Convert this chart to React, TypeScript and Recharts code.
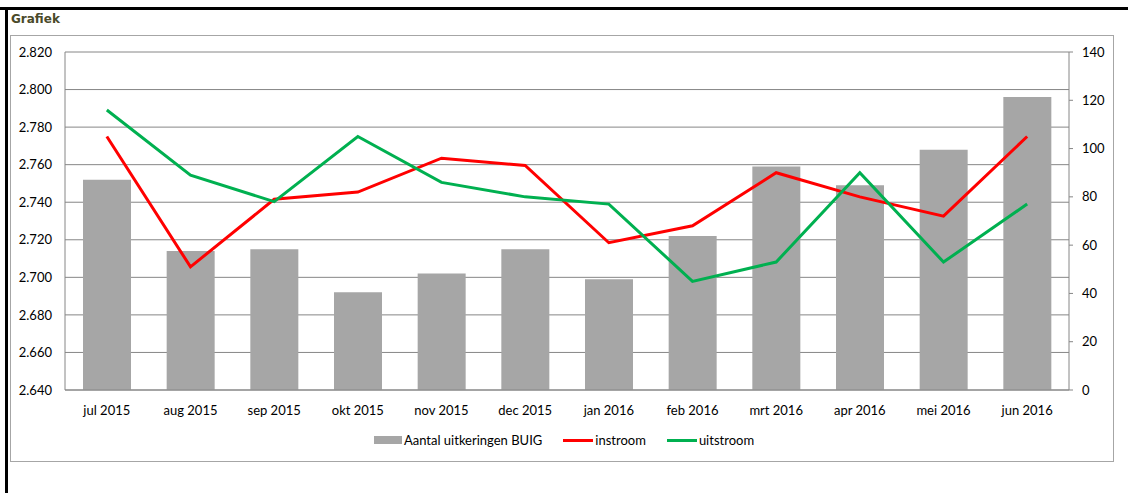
import React from 'react'
import { ComposedChart, Bar, Line, XAxis, YAxis, CartesianGrid, Legend } from 'recharts'

const months = ['jul 2015', 'aug 2015', 'sep 2015', 'okt 2015', 'nov 2015', 'dec 2015', 'jan 2016', 'feb 2016', 'mrt 2016', 'apr 2016', 'mei 2016', 'jun 2016']
const uitkeringen = [2752, 2714, 2715, 2692, 2702, 2715, 2699, 2722, 2759, 2749, 2768, 2796]
const instroom = [105, 51, 79, 82, 96, 93, 61, 68, 90, 80, 72, 105]
const uitstroom = [116, 89, 78, 105, 86, 80, 77, 45, 53, 90, 53, 77]
const leftTicks = [2640, 2660, 2680, 2700, 2720, 2740, 2760, 2780, 2800, 2820]
const rightTicks = [0, 20, 40, 60, 80, 100, 120, 140]

const seriesNames = ['Aantal uitkeringen BUIG', 'instroom', 'uitstroom']

const data = months.map((m, i) => ({
  month: m,
  [seriesNames[0]]: uitkeringen[i],
  instroom: instroom[i],
  uitstroom: uitstroom[i],
}))

const font = 'Lato, "Open Sans", sans-serif'
const axisGray = '#868686'
const tickStyle = { fontSize: 13, fill: '#000', fontFamily: font }

const fmtThousands = (v: number) => (v / 1000).toFixed(3)

function LegendContent(props: any) {
  const items = [...(props.payload || [])].sort(
    (a: any, b: any) => seriesNames.indexOf(a.value) - seriesNames.indexOf(b.value)
  )
  return (
    <div style={{ display: 'flex', justifyContent: 'center', alignItems: 'center', height: 30, fontFamily: font, fontSize: 13, color: '#000' }}>
      {items.map((it: any, i: number) => (
        <div key={it.value} style={{ display: 'flex', alignItems: 'center', marginLeft: i === 0 ? 0 : 21 }}>
          {it.value === seriesNames[0] ? (
            <span style={{ display: 'inline-block', width: 28, height: 8, background: '#a6a6a6' }} />
          ) : (
            <span style={{ display: 'inline-block', width: 30, height: 3, background: it.color }} />
          )}
          <span style={{ marginLeft: 2 }}>{it.value}</span>
        </div>
      ))}
    </div>
  )
}

export default function App() {
  return (
    <div style={{ position: 'absolute', left: 0, top: 0, width: 1128, height: 493, background: '#fff', overflow: 'hidden' }}>
      {/* black frame on top and left */}
      <div style={{ position: 'absolute', left: 0, top: 7, width: 1128, height: 3, background: '#000' }} />
      <div style={{ position: 'absolute', left: 5, top: 7, width: 3, height: 486, background: '#000' }} />
      <div style={{ position: 'absolute', left: 11, top: 12, fontFamily: '"DejaVu Sans", sans-serif', fontWeight: 'bold', fontSize: 12, color: '#4a4a2a' }}>
        Grafiek
      </div>
      {/* chart box */}
      <div style={{ position: 'absolute', left: 10, top: 35, width: 1104, height: 427, border: '1px solid #a6a6a6', boxSizing: 'border-box' }} />
      <div style={{ position: 'absolute', left: 0, top: 0 }}>
        <ComposedChart width={1128} height={493} data={data} margin={{ top: 52, right: 10, bottom: 38, left: 10 }}>
          <CartesianGrid yAxisId="left" vertical={false} stroke={axisGray} strokeWidth={1} />
          <XAxis
            dataKey="month"
            height={35}
            tickLine={false}
            tickSize={0}
            tickMargin={16}
            axisLine={{ stroke: axisGray }}
            tick={tickStyle}
            interval={0}
          />
          <YAxis
            yAxisId="left"
            width={55}
            domain={[2640, 2820]}
            ticks={leftTicks}
            tickFormatter={fmtThousands}
            tickLine={false}
            tickSize={0}
            tickMargin={13}
            axisLine={{ stroke: axisGray }}
            tick={tickStyle}
            interval={0}
          />
          <YAxis
            yAxisId="right"
            orientation="right"
            width={49}
            domain={[0, 140]}
            ticks={rightTicks}
            tickLine={{ stroke: axisGray }}
            tickSize={4}
            tickMargin={9}
            axisLine={{ stroke: axisGray }}
            tick={tickStyle}
            interval={0}
          />
          <Bar yAxisId="left" dataKey={seriesNames[0]} fill="#a6a6a6" barSize={48} isAnimationActive={false} />
          <Line yAxisId="right" type="linear" dataKey="instroom" stroke="#ff0000" strokeWidth={3} dot={false} activeDot={false} isAnimationActive={false} />
          <Line yAxisId="right" type="linear" dataKey="uitstroom" stroke="#00b050" strokeWidth={3} dot={false} activeDot={false} isAnimationActive={false} />
          <Legend verticalAlign="bottom" height={30} content={<LegendContent />} />
        </ComposedChart>
      </div>
    </div>
  )
}
